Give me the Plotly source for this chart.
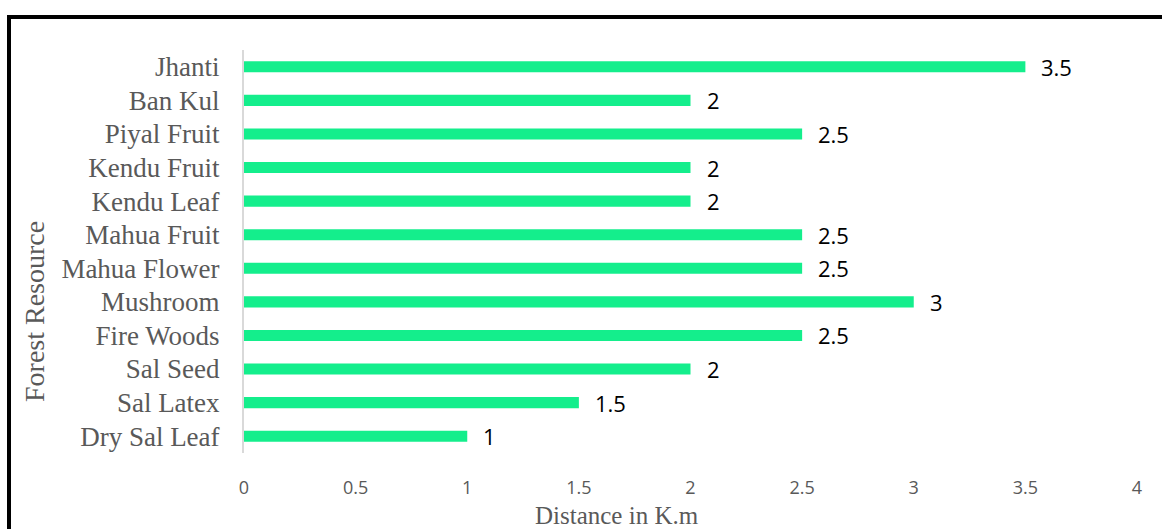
import plotly.graph_objects as go

# Forest resources (bottom to top) and distance travelled to collect them
resources = [
    "Dry Sal Leaf", "Sal Latex", "Sal Seed", "Fire Woods", "Mushroom",
    "Mahua Flower", "Mahua Fruit", "Kendu Leaf", "Kendu Fruit",
    "Piyal Fruit", "Ban Kul", "Jhanti",
]
distance_km = [1, 1.5, 2, 2.5, 3, 2.5, 2.5, 2, 2, 2.5, 2, 3.5]
x_ticks = [0, 0.5, 1, 1.5, 2, 2.5, 3, 3.5, 4]
x_tick_text = ["0", "0.5", "1", "1.5", "2", "2.5", "3", "3.5", "4"]

W, H = 1162, 529
ML, MR, MT, MB = 244, 25, 50, 76
PW, PH = W - ML - MR, H - MT - MB


def px_to_paper(px, py):
    return (px - ML) / PW, (H - MB - py) / PH


BAR = "#14EE8C"
GREY = "#595959"
SERIF = "Liberation Serif, Times New Roman, serif"
SANS = "Open Sans, Carlito, Calibri, sans-serif"

fig = go.Figure(
    go.Bar(
        x=distance_km,
        y=resources,
        orientation="h",
        marker=dict(color=BAR, line=dict(width=0)),
        width=0.33,
        hoverinfo="x+y",
    )
)

# value labels to the right of each bar
for name, val in zip(resources, distance_km):
    fig.add_annotation(
        x=val, y=name, xref="x", yref="y",
        text=f"{val:g}", showarrow=False,
        xanchor="left", yanchor="middle", xshift=14,
        font=dict(family=SANS, size=22, color="#000000"),
    )

# axis titles
tx, ty = px_to_paper(617, 515)
fig.add_annotation(
    x=tx, y=ty, xref="paper", yref="paper", text="Distance in K.m",
    showarrow=False, xanchor="center", yanchor="middle",
    font=dict(family=SERIF, size=25, color=GREY),
)
tx, ty = px_to_paper(35, 312)
fig.add_annotation(
    x=tx, y=ty, xref="paper", yref="paper", text="Forest Resource",
    showarrow=False, textangle=-90, xanchor="center", yanchor="middle",
    font=dict(family=SERIF, size=28, color=GREY),
)

# black frame along the top and left edges
x0, y0 = px_to_paper(9, 540)
x1, y1 = px_to_paper(9, 17)
x2, _ = px_to_paper(1175, 17)
fig.add_shape(
    type="path", xref="paper", yref="paper",
    path=f"M {x0} {y0} L {x1} {y1} L {x2} {y1}",
    line=dict(color="#000000", width=4),
)

fig.update_layout(
    width=W, height=H,
    margin=dict(l=ML, r=MR, t=MT, b=MB, pad=0),
    paper_bgcolor="#ffffff", plot_bgcolor="#ffffff",
    showlegend=False,
    bargap=0.67,
)
fig.update_xaxes(
    range=[0, 4], tickvals=x_ticks, ticktext=x_tick_text,
    showgrid=False, zeroline=False, showline=False, ticks="",
    ticklabelstandoff=22,
    tickfont=dict(family=SANS, size=18, color=GREY),
)
fig.update_yaxes(
    categoryorder="array", categoryarray=resources,
    range=[-0.5, len(resources) - 0.5],
    showgrid=False, zeroline=False,
    showline=True, linecolor="#D9D9D9", linewidth=2,
    ticks="", ticklabelstandoff=17,
    tickfont=dict(family=SERIF, size=27, color=GREY),
)

fig.write_html("out.html")
